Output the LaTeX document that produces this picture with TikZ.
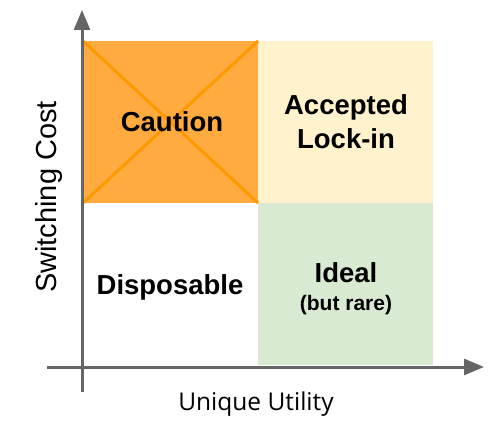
\documentclass[tikz,border=0pt]{standalone}
\usepackage{fontspec}
\setmainfont{Liberation Sans}
\newfontfamily\axisfont{Open Sans}
\usetikzlibrary{arrows.meta}
\definecolor{cautionfill}{HTML}{FFAB40}
\definecolor{cautionline}{HTML}{FF9900}
\definecolor{lockfill}{HTML}{FFF2CC}
\definecolor{idealfill}{HTML}{D9EAD3}
\definecolor{axisgray}{HTML}{666666}
\tikzset{
  quad/.style={draw=none, minimum width=175pt, minimum height=162pt, inner sep=0pt, outer sep=0pt},
  qlabel/.style={font=\fontsize{27.5}{34}\selectfont\bfseries, align=center, text=black},
  axisline/.style={draw=axisgray, line width=3pt, -{Triangle[length=20pt,width=16pt]}},
  axislabel/.style={font=\axisfont\fontsize{24.5}{28}\selectfont, text=black},
  crossline/.style={draw=cautionline, line width=3pt}
}
\begin{document}
\begin{tikzpicture}[x=1pt,y=-1pt]
\useasboundingbox (0,0) rectangle (500,430);
% quadrants
\node[quad, fill=cautionfill, anchor=north west] (caution) at (83,41) {};
\node[quad, fill=lockfill, anchor=north west] (lock) at (258,41) {};
\node[quad, fill=idealfill, anchor=north west] (ideal) at (258,203) {};
\node[quad, anchor=north west] (disp) at (83,203) {};
% cross
\draw[crossline] (caution.north west) -- (caution.south east);
\draw[crossline] (caution.south west) -- (caution.north east);
% labels
\node[qlabel] (tcaution) at (172,122) {Caution};
\node[qlabel] (tlock) at (346,122) {Accepted\\Lock-in};
\node[qlabel] (tdisp) at (170,287) {Disposable};
\node[qlabel, anchor=base] (tideal) at (346,282) {Ideal};
\node[font=\fontsize{21}{24}\selectfont\bfseries, text=black, anchor=base] (trare) at (346,310) {(but rare)};
% axes
\coordinate (yb) at (82,392);
\coordinate (yt) at (82,10);
\coordinate (xl) at (47,367);
\coordinate (xr) at (484,367);
\draw[axisline] (yb) -- (yt);
\draw[axisline] (xl) -- (xr);
\node[font=\fontsize{29}{32}\selectfont, text=black, rotate=90] (ylab) at (49,197) {Switching Cost};
\node[axislabel] (xlab) at (256,404) {Unique Utility};
\end{tikzpicture}
\end{document}
